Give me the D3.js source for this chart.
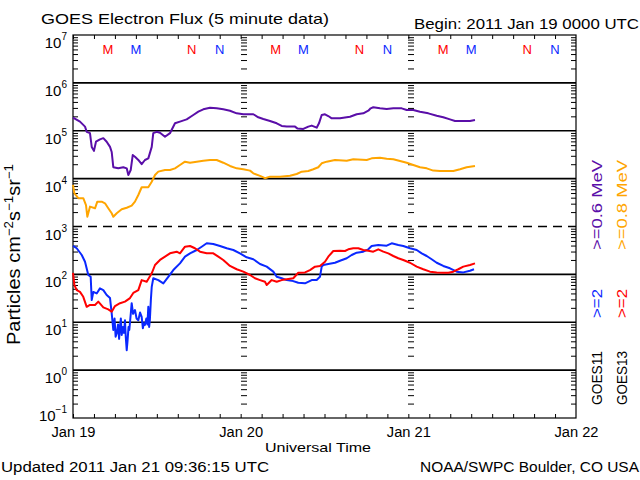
<!DOCTYPE html>
<html><head><meta charset="utf-8">
<script src="https://cdn.jsdelivr.net/npm/d3@7"></script>
<style>
body{margin:0;background:#fff}
svg{display:block}
text{font-family:"Liberation Sans","DejaVu Sans",sans-serif;}
</style>
</head><body>
<svg id="c" width="640" height="480"></svg>
<script>
// ---------------- DATA ----------------
const startUTC = Date.UTC(2011, 0, 19);
const endUTC = Date.UTC(2011, 0, 22);
const dayLabels = ["Jan 19", "Jan 20", "Jan 21", "Jan 22"];
const decadeExps = [-1, 0, 1, 2, 3, 4, 5, 6, 7];

// GOES11 >=0.6 MeV (hours since Jan 19 00 UT, flux)
const g11lowHours = [0,1.0,1.72,1.96,2.43,2.68,3.0,3.29,3.86,4.34,4.82,5.3,5.54,5.77,6.48,7.2,7.69,7.92,8.26,8.55,8.87,9.35,9.83,10.3,10.78,11.27,11.49,11.98,12.45,13.17,13.88,14.6,15.31,16.27,17.22,17.94,18.65,19.61,20.57,21.51,22.47,23.43,24.38,25.81,26.52,27.24,28.2,29.16,29.87,30.59,31.78,32.11,32.97,33.68,34.17,34.88,35.21,35.6,36.07,36.54,37.03,38.22,39.65,40.61,41.55,42.27,42.61,42.98,43.94,44.9,45.85,47.05,47.77,48.71,49.67,50.86,52.06,53.0,53.96,54.68,55.87,56.83,57.54];
const g11lowFlux = [1.88e5,1.55e5,1.22e5,9.5e4,8.9e4,4.6e4,3.8e4,5.9e4,6.6e4,7.0e4,5.9e4,4.6e4,3.6e4,1.73e4,1.64e4,1.73e4,1.64e4,1.19e4,1.51e4,3.1e4,2.87e4,2.45e4,2.0e4,2.45e4,2.65e4,4.6e4,8.9e4,9.5e4,9.1e4,7.5e4,8.9e4,1.43e5,1.55e5,1.73e5,2.13e5,2.5e5,2.8e5,3.03e5,2.94e5,2.8e5,2.62e5,2.31e5,2.21e5,2.21e5,1.91e5,1.76e5,1.6e5,1.43e5,1.26e5,1.22e5,1.22e5,1.12e5,1.09e5,1.22e5,1.28e5,1.16e5,1.43e5,2.13e5,2.21e5,2.03e5,1.82e5,1.82e5,1.96e5,2.21e5,2.31e5,2.62e5,2.94e5,3.09e5,2.94e5,2.84e5,2.94e5,2.94e5,2.71e5,2.71e5,2.5e5,2.31e5,2.06e5,1.91e5,1.73e5,1.6e5,1.6e5,1.6e5,1.68e5];

// GOES13 >=0.8 MeV
const g13lowHours = [0,0.2,0.76,1.47,1.86,2.05,2.43,3.15,3.48,4.11,4.58,5.05,5.54,5.77,6.26,6.97,7.69,8.4,8.87,9.35,9.83,10.78,11.27,11.74,12.21,13.17,13.88,14.6,15.31,16.03,16.75,17.71,18.65,19.61,20.57,21.51,22.47,23.43,24.38,25.34,25.81,26.77,27.48,28.2,29.63,31.06,32.02,32.74,33.68,34.4,35.11,35.6,36.31,37.5,39.18,40.12,42.04,42.75,43.94,44.9,45.85,46.81,47.77,48.71,49.67,50.63,51.57,52.53,54.44,55.4,56.35,57.54];
const g13lowFlux = [7.4e3,4.9e3,3.9e3,3.9e3,2.8e3,1.6e3,2.6e3,2.4e3,3.3e3,3.3e3,3.05e3,2.4e3,1.89e3,1.6e3,1.89e3,2.29e3,2.47e3,2.72e3,3.3e3,4.55e3,6.6e3,6.6e3,8.6e3,1.19e4,1.4e4,1.51e4,1.51e4,1.64e4,1.93e4,2.26e4,2.15e4,2.26e4,2.37e4,2.45e4,2.45e4,2.15e4,1.84e4,1.64e4,1.57e4,1.47e4,1.29e4,1.14e4,1.02e4,1.1e4,1.1e4,1.15e4,1.25e4,1.4e4,1.44e4,1.57e4,1.73e4,2.09e4,2.26e4,2.45e4,2.37e4,2.53e4,2.45e4,2.65e4,2.73e4,2.6e4,2.53e4,2.33e4,2.15e4,1.93e4,1.73e4,1.64e4,1.47e4,1.44e4,1.44e4,1.57e4,1.73e4,1.84e4];

// GOES11 >=2 MeV
const g11hiHours = [0,0.53,1.25,1.72,2.19,2.53,2.68,2.91,3.39,3.86,4.34,4.82,5.3,5.54,5.77,5.95,6.1,6.26,6.45,6.6,6.73,6.85,6.97,7.15,7.3,7.44,7.55,7.69,7.8,7.95,8.06,8.25,8.4,8.6,8.87,9.1,9.35,9.6,9.83,10.0,10.15,10.3,10.5,10.65,10.78,10.9,11.0,11.15,11.27,11.49,12.21,12.93,13.64,14.36,15.31,16.03,16.75,17.71,18.42,19.14,20.08,21.04,22.0,22.95,23.9,24.86,25.81,26.77,27.73,28.67,29.16,29.87,30.59,31.3,32.25,33.21,34.17,34.88,35.35,35.6,35.83,36.54,37.5,38.22,39.18,39.89,40.61,41.55,42.27,42.75,43.7,44.9,45.62,46.56,47.28,48.24,49.2,49.91,50.63,51.34,52.06,53.0,53.96,54.92,55.87,56.83,57.4];
const g11hiFlux = [392,351,254,184,97,89,29,43,40,51,47,37,32,15.4,6.9,12,5.0,5.9,9,4.5,8.1,12,5.4,8,6,11,5,2.6,4,8,6.9,14,25,15,18,12,11,16,13,7.5,9.5,8.8,12,9,21,8,11,30,55,83,76,65,89,123,170,234,275,323,378,446,431,392,351,323,275,227,207,165,145,114,89,83,76,74,67,65,76,76,89,145,157,165,175,193,217,254,284,298,334,392,411,397,446,411,392,351,323,275,242,207,175,150,134,114,110,119,128];

// GOES13 >=2 MeV
const g13hiHours = [0,0.2,0.53,1.0,1.47,1.96,2.43,3.15,3.62,4.34,5.05,5.54,6.01,6.73,7.44,8.16,8.63,9.35,9.83,10.55,11.27,11.74,12.45,13.17,13.88,14.84,15.31,16.03,16.75,17.46,18.18,19.14,20.08,20.8,21.51,22.47,23.43,24.38,25.34,26.05,26.77,27.48,27.73,28.44,29.16,29.87,30.59,31.53,32.25,33.21,33.92,34.64,35.35,36.07,36.54,37.26,38.22,38.93,39.41,40.12,40.84,41.55,42.27,42.98,43.7,44.42,45.13,45.85,46.56,47.28,48.24,49.2,50.14,51.1,52.06,53.0,53.72,54.44,55.15,55.87,56.83,57.54];
const g13hiFlux = [108,60,47,43,34,21,23,23,27,20.5,18.6,16.6,21.8,25,27,32,41,47,76,70,105,157,200,234,275,298,275,378,392,351,298,275,275,234,200,150,128,114,97,83,76,70,60,76,70,76,79,83,108,110,123,145,150,184,234,308,313,308,334,351,351,323,313,298,334,298,275,242,217,200,175,145,128,114,110,108,108,114,128,145,157,170];

// local midnight (M) / noon (N) markers, hours of each UT day
const markerLabels = ["M", "M", "N", "N"];
const markerHours = [5, 9, 17, 21];
const markerSat = ["GOES13", "GOES11", "GOES13", "GOES11"];

// ---------------- CHART ----------------
const svg = d3.select("#c");
const L = 73, R = 576, T = 35, B = 418;
const colors = {g11low: "#5a0ea8", g13low: "#ffa500", g11hi: "#0a28ff", g13hi: "#ff0000"};
const satColor = {GOES11: "#0a28ff", GOES13: "#ff0000"};

const x = d3.scaleUtc().domain([startUTC, endUTC]).range([L, R]);
const y = d3.scaleLog().domain([0.1, 1e7]).range([B, T]);
const toDate = h => new Date(startUTC + h * 3600e3);

svg.append("rect").attr("width", 640).attr("height", 480).attr("fill", "#fff");

const minorVals = [];
decadeExps.slice(0, -1).forEach(e => { for (let k = 2; k <= 9; k++) minorVals.push(k * Math.pow(10, e)); });
const dayDates = d3.range(4).map(i => new Date(startUTC + i * 864e5));

function cleanAxis(g) { g.select(".domain").remove(); g.selectAll("line").attr("stroke", "#000").attr("stroke-width", 1); }

svg.append("g").attr("transform", `translate(${L},0)`)
  .call(d3.axisRight(y).tickValues(minorVals).tickSize(5).tickFormat("")).call(cleanAxis);
svg.append("g").attr("transform", `translate(${R},0)`)
  .call(d3.axisLeft(y).tickValues(minorVals).tickSize(5).tickFormat("")).call(cleanAxis);
[dayDates[1], dayDates[2]].forEach(d => {
  svg.append("g").attr("transform", `translate(${Math.round(x(d))},0)`)
    .call(d3.axisRight(y).tickValues(minorVals).tickSize(6).tickFormat("")).call(cleanAxis);
});
const hourTicks = d3.utcHour.every(3).range(new Date(startUTC), new Date(endUTC));
svg.append("g").attr("transform", `translate(0,${T})`)
  .call(d3.axisBottom(x).tickValues(hourTicks).tickSize(4).tickFormat("")).call(cleanAxis);
svg.append("g").attr("transform", `translate(0,${B})`)
  .call(d3.axisTop(x).tickValues(hourTicks).tickSize(4).tickFormat("")).call(cleanAxis);

decadeExps.slice(1, -1).forEach(e => {
  svg.append("line").attr("x1", L).attr("x2", R)
    .attr("y1", y(Math.pow(10, e))).attr("y2", y(Math.pow(10, e)))
    .attr("stroke", "#000").attr("stroke-width", 1.6)
    .attr("stroke-dasharray", e === 3 ? "9,6" : null);
});

svg.append("rect").attr("x", L).attr("y", T).attr("width", R - L).attr("height", B - T)
  .attr("fill", "none").attr("stroke", "#000").attr("stroke-width", 1.2);

decadeExps.forEach(e => {
  const yy = e === -1 ? y(0.1) + 3 : y(Math.pow(10, e)) + 13;
  const t = svg.append("text").attr("x", 67).attr("y", yy).attr("text-anchor", "end")
    .attr("font-size", 15).attr("fill", "#000");
  t.append("tspan").text("10");
  t.append("tspan").attr("dy", -8).attr("font-size", 10).text(String(e).replace("-", "\u2212"));
});

svg.append("g").attr("transform", `translate(0,${B})`)
  .call(d3.axisBottom(x).tickValues(dayDates).tickSize(0).tickPadding(9)
    .tickFormat((d, i) => dayLabels[i]))
  .call(g => g.select(".domain").remove())
  .call(g => g.selectAll("text").attr("font-size", 14).attr("fill", "#000")
    .attr("font-family", "Liberation Sans, DejaVu Sans, sans-serif")
    .attr("textLength", 44).attr("lengthAdjust", "spacingAndGlyphs"));

const mk = (hs, vs) => hs.map((h, i) => ({t: toDate(h), v: vs[i]})).filter(d => d.v != null);
const line = d3.line().x(d => x(d.t)).y(d => y(d.v));
const series = [
  {data: mk(g11lowHours, g11lowFlux), c: colors.g11low},
  {data: mk(g13lowHours, g13lowFlux), c: colors.g13low},
  {data: mk(g11hiHours, g11hiFlux), c: colors.g11hi},
  {data: mk(g13hiHours, g13hiFlux), c: colors.g13hi}
];
series.forEach(s => svg.append("path").attr("d", line(s.data)).attr("fill", "none")
  .attr("stroke", s.c).attr("stroke-width", 2).attr("stroke-linejoin", "round"));

dayDates.slice(0, 3).forEach(d => {
  markerHours.forEach((h, i) => {
    svg.append("text").attr("x", x(new Date(+d + h * 3600e3))).attr("y", 54)
      .attr("text-anchor", "middle").attr("font-size", 13).attr("fill", satColor[markerSat[i]])
      .text(markerLabels[i]);
  });
});

svg.append("text").attr("x", 41).attr("y", 24).attr("font-size", 15)
  .attr("textLength", 288).attr("lengthAdjust", "spacingAndGlyphs")
  .text("GOES Electron Flux (5 minute data)");
svg.append("text").attr("x", 414).attr("y", 29).attr("font-size", 14)
  .attr("textLength", 225).attr("lengthAdjust", "spacingAndGlyphs")
  .text("Begin: 2011 Jan 19 0000 UTC");
svg.append("text").attr("x", 318).attr("y", 452).attr("font-size", 13).attr("text-anchor", "middle")
  .attr("textLength", 106).attr("lengthAdjust", "spacingAndGlyphs")
  .text("Universal Time");
svg.append("text").attr("x", 1).attr("y", 472).attr("font-size", 14)
  .attr("textLength", 268).attr("lengthAdjust", "spacingAndGlyphs")
  .text("Updated 2011 Jan 21 09:36:15 UTC");
svg.append("text").attr("x", 420).attr("y", 472).attr("font-size", 14)
  .attr("textLength", 219).attr("lengthAdjust", "spacingAndGlyphs")
  .text("NOAA/SWPC Boulder, CO USA");

const yt = svg.append("text").attr("transform", "translate(20,345) rotate(-90)")
  .attr("font-size", 18).attr("textLength", 181).attr("lengthAdjust", "spacingAndGlyphs");
yt.append("tspan").text("Particles cm");
yt.append("tspan").attr("dy", -7).attr("font-size", 12).text("\u22122");
yt.append("tspan").attr("dy", 7).text("s");
yt.append("tspan").attr("dy", -7).attr("font-size", 12).text("\u22121");
yt.append("tspan").attr("dy", 7).text("sr");
yt.append("tspan").attr("dy", -7).attr("font-size", 12).text("\u22121");

const legendCols = [
  {bx: 602, parts: [["GOES11", "#000", 0, 54], [">=2", colors.g11hi, 87, 29], [">=0.6 MeV", colors.g11low, 155, 90]]},
  {bx: 627, parts: [["GOES13", "#000", 0, 54], [">=2", colors.g13hi, 87, 29], [">=0.8 MeV", colors.g13low, 155, 90]]}
];
legendCols.forEach(col => {
  const g = svg.append("g").attr("transform", `translate(${col.bx},405) rotate(-90)`);
  col.parts.forEach(p => g.append("text").attr("x", p[2]).attr("y", 0).attr("font-size", 15)
    .attr("fill", p[1]).attr("textLength", p[3]).attr("lengthAdjust", "spacingAndGlyphs").text(p[0]));
});
</script>
</body></html>
